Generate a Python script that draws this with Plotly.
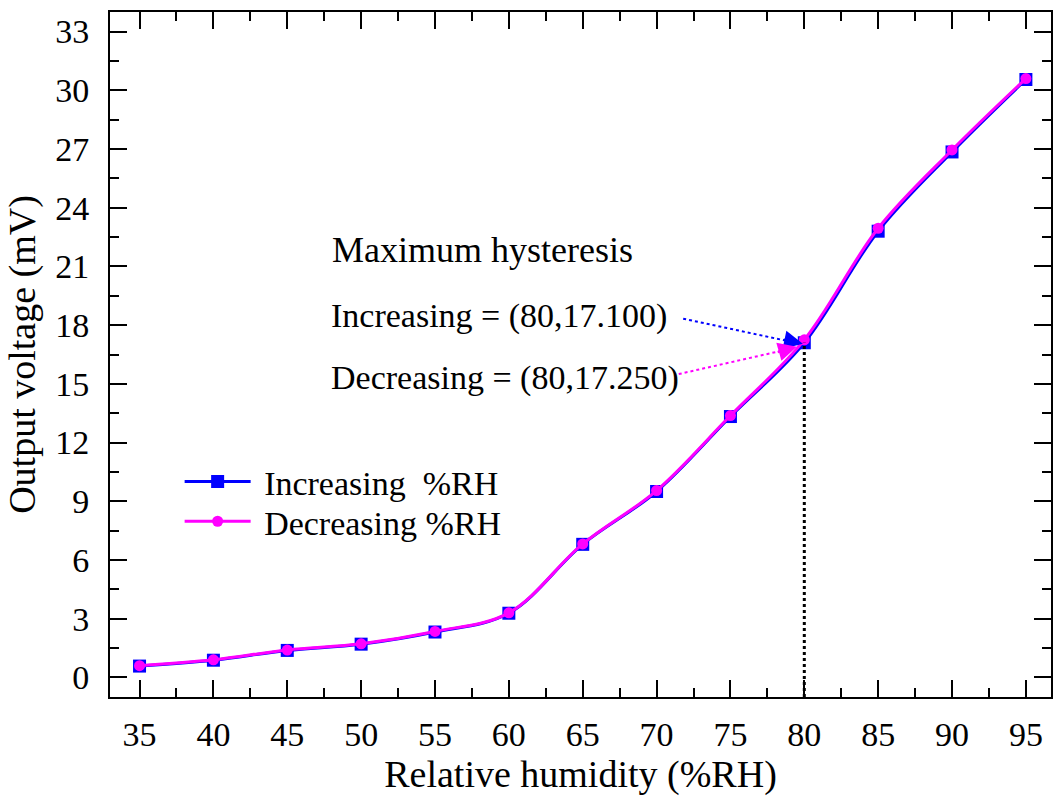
import plotly.graph_objects as go

# Relative humidity steps (%RH)
humidity = [35, 40, 45, 50, 55, 60, 65, 70, 75, 80, 85, 90, 95]

# Sensor output voltage (mV) while humidity rises and falls
v_increasing = [0.58, 0.88, 1.38, 1.70, 2.32, 3.28, 6.80, 9.50, 13.33, 17.10, 22.80, 26.85, 30.55]
v_decreasing = [0.60, 0.90, 1.40, 1.72, 2.35, 3.30, 6.82, 9.55, 13.38, 17.25, 22.95, 26.95, 30.60]

x_ticks = [35, 40, 45, 50, 55, 60, 65, 70, 75, 80, 85, 90, 95]
y_ticks = [0, 3, 6, 9, 12, 15, 18, 21, 24, 27, 30, 33]

FONT = "Liberation Serif"
BLUE = "#0000FF"
MAGENTA = "#FF00FF"

fig = go.Figure()

fig.add_trace(go.Scatter(
    x=humidity, y=v_increasing, name="\u00a0Increasing  %RH",
    mode="lines+markers", legend="legend",
    line=dict(color=BLUE, width=3, shape="spline", smoothing=1.0),
    marker=dict(symbol="square", size=13, color=BLUE),
))
fig.add_trace(go.Scatter(
    x=humidity, y=v_decreasing, name="\u00a0Decreasing %RH",
    mode="lines+markers", legend="legend2",
    line=dict(color=MAGENTA, width=3, shape="spline", smoothing=1.0),
    marker=dict(symbol="circle", size=11, color=MAGENTA),
))

# Vertical marker at the point of maximum hysteresis
fig.add_shape(type="line", x0=80, x1=80, y0=-1, y1=v_increasing[9],
              xref="x", yref="y",
              line=dict(color="black", width=3, dash="dot"))

# Dotted pointer lines toward the hysteresis point
fig.add_shape(type="line", x0=71.8, y0=18.33, x1=79.3, y1=17.12,
              line=dict(color=BLUE, width=2, dash="dot"))
fig.add_shape(type="line", x0=71.5, y0=15.5, x1=78.8, y1=16.75,
              line=dict(color=MAGENTA, width=2, dash="dot"))

# Arrow heads
fig.add_annotation(x=79.9, y=17.05, ax=78.5, ay=17.27, xref="x", yref="y",
                   axref="x", ayref="y", text="", showarrow=True,
                   arrowhead=2, arrowsize=1.5, arrowwidth=2.5, arrowcolor=BLUE)
fig.add_annotation(x=79.5, y=16.9, ax=78.1, ay=16.6, xref="x", yref="y",
                   axref="x", ayref="y", text="", showarrow=True,
                   arrowhead=2, arrowsize=1.5, arrowwidth=2.5, arrowcolor=MAGENTA)

# Text labels
fig.add_annotation(x=47.9, y=21.85, text="Maximum hysteresis", showarrow=False,
                   xanchor="left", yanchor="middle",
                   font=dict(family=FONT, size=36, color="black"))
fig.add_annotation(x=47.8, y=18.45, text="Increasing = (80,17.100)", showarrow=False,
                   xanchor="left", yanchor="middle",
                   font=dict(family=FONT, size=34, color="black"))
fig.add_annotation(x=47.8, y=15.3, text="Decreasing = (80,17.250)", showarrow=False,
                   xanchor="left", yanchor="middle",
                   font=dict(family=FONT, size=34, color="black"))

axis_common = dict(
    showline=True, linecolor="black", linewidth=2, mirror="ticks",
    ticks="inside", ticklen=17, tickwidth=2, tickcolor="black",
    showgrid=False, zeroline=False,
    tickfont=dict(family=FONT, size=34, color="black"),
)

fig.update_xaxes(
    range=[33, 96.7], tickvals=x_ticks, ticktext=[str(v) for v in x_ticks],
    minor=dict(ticks="inside", ticklen=9, tickwidth=2, tickcolor="black", dtick=2.5, tick0=35),
    title=dict(text="Relative humidity (%RH)", font=dict(family=FONT, size=38, color="black"), standoff=4),
    ticklabelstandoff=6,
    **axis_common,
)
fig.update_yaxes(
    range=[-1, 34], tickvals=y_ticks, ticktext=[str(v) for v in y_ticks],
    minor=dict(ticks="inside", ticklen=9, tickwidth=2, tickcolor="black", dtick=1.5, tick0=0),
    title=dict(text="Output voltage (mV)", font=dict(family=FONT, size=38, color="black"), standoff=8),
    ticklabelstandoff=12,
    **axis_common,
)

legend_style = dict(xanchor="left", yanchor="middle", bgcolor="rgba(0,0,0,0)",
                    font=dict(family=FONT, size=34, color="black"), itemwidth=66)

fig.update_layout(
    width=1053, height=802,
    margin=dict(l=110, r=0, t=12, b=105),
    paper_bgcolor="white", plot_bgcolor="white",
    showlegend=True,
    legend=dict(x=0.074, y=0.314, **legend_style),
    legend2=dict(x=0.074, y=0.256, **legend_style),
)

fig.write_html("out.html")
